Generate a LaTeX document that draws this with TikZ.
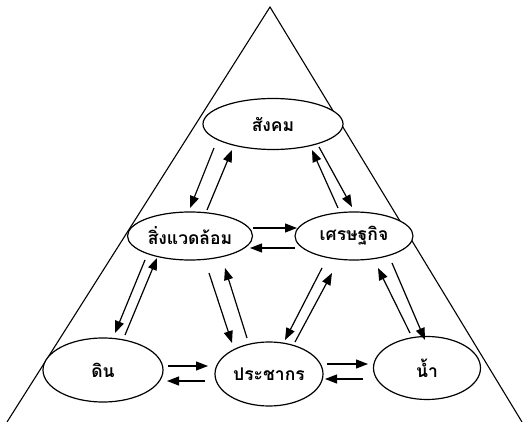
\documentclass[tikz,border=0pt]{standalone}
\usepackage{fontspec}
\newfontfamily\thaifont[Script=Thai]{Loma}
\usetikzlibrary{shapes.geometric}
\usetikzlibrary{arrows.meta}
\usetikzlibrary{calc}

\begin{document}
\begin{tikzpicture}[x = 1pt, y = -1pt]
  \tikzstyle{factor}=[ellipse, draw = black, fill = white, line width = 1.2pt, inner sep = 0pt, outer sep = 0pt, font = \thaifont\bfseries\fontsize{17.5}{20}\selectfont]
  \tikzstyle{connect}=[-{Triangle[length = 12pt, width = 9pt]}, line width = 1.2pt]
  \tikzstyle{frame}=[line width = 1.1pt]

  \useasboundingbox (0,0) rectangle (528,422);
  \draw[frame] (7,422) -- (270,7) -- (522,422);

  \node[factor, minimum width = 140pt, minimum height = 51pt] (soc) at (273,124) { \makebox[0pt]{สังคม} };
  \node[factor, minimum width = 125pt, minimum height = 48pt] (env) at (190,236) { \makebox[0pt]{สิ่งแวดล้อม} };
  \node[factor, minimum width = 118pt, minimum height = 48pt] (eco) at (354,236) { \makebox[0pt]{เศรษฐกิจ} };
  \node[factor, minimum width = 120pt, minimum height = 64pt] (soil) at (103,370) { \makebox[0pt]{ดิน} };
  \node[factor, minimum width = 108pt, minimum height = 64pt] (pop) at (269,374) { \makebox[0pt]{ประชากร} };
  \node[factor, minimum width = 107pt, minimum height = 63pt] (water) at (427,368) { \makebox[0pt]{น้ำ} };

  % top pair of sides
  \draw[connect] ($(soc)+(-59,24)$) -- ($(env)+(0,-28)$);
  \draw[connect] ($(env)+(17,-26)$) -- ($(soc)+(-41,26)$);
  \draw[connect] ($(soc)+(46,23)$) -- ($(eco)+(-2,-29)$);
  \draw[connect] ($(eco)+(-16,-28)$) -- ($(soc)+(39,26)$);

  % middle row
  \draw[connect] ($(env)+(63,-8)$) -- ($(eco)+(-57,-8)$);
  \draw[connect] ($(eco)+(-59,12)$) -- ($(env)+(60,12)$);

  % down to the bottom row
  \draw[connect] ($(env)+(-45,24)$) -- ($(soil)+(12,-37)$);
  \draw[connect] ($(soil)+(22,-35)$) -- ($(env)+(-33,22)$);
  \draw[connect] ($(env)+(19,37)$) -- ($(pop)+(-37,-31)$);
  \draw[connect] ($(pop)+(-22,-36)$) -- ($(env)+(35,32)$);
  \draw[connect] ($(eco)+(-32,32)$) -- ($(pop)+(16,-34)$);
  \draw[connect] ($(pop)+(26,-32)$) -- ($(eco)+(-22,37)$);
  \draw[connect] ($(eco)+(38,27)$) -- ($(water)+(-2,-28)$);
  \draw[connect] ($(water)+(-17,-35)$) -- ($(eco)+(24,32)$);

  % bottom row
  \draw[connect] ($(soil)+(65,-4)$) -- ($(pop)+(-61,-8)$);
  \draw[connect] ($(pop)+(-64,7)$) -- ($(soil)+(64,11)$);
  \draw[connect] ($(pop)+(58,-10)$) -- ($(water)+(-59,-4)$);
  \draw[connect] ($(water)+(-64,11)$) -- ($(pop)+(56,5)$);

\end{tikzpicture}
\end{document}
